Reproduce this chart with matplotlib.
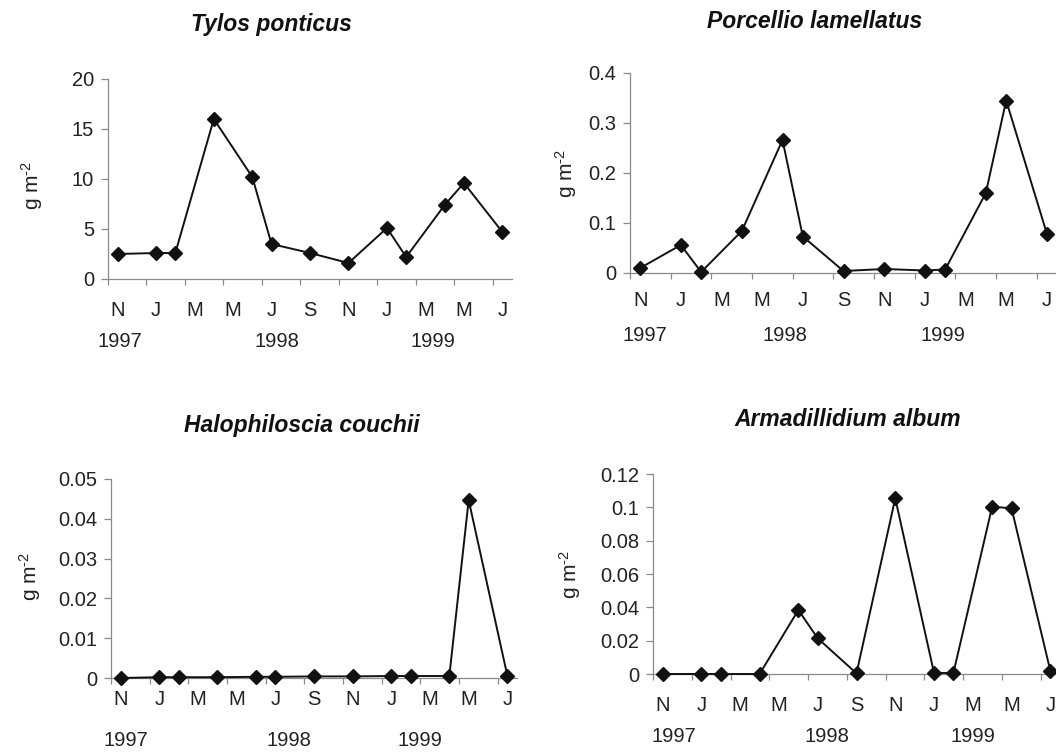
import matplotlib
matplotlib.use('Agg')
import matplotlib.pyplot as plt
from matplotlib.ticker import FixedLocator, FuncFormatter

plt.rcParams['font.family'] = ['Liberation Sans', 'DejaVu Sans']
plt.rcParams['mathtext.fontset'] = 'custom'
plt.rcParams['mathtext.rm'] = 'Liberation Sans'
plt.rcParams['mathtext.it'] = 'Liberation Sans:italic'

# sampling dates, months counted from Nov 1997
months = [0, 2, 3, 5, 7, 8, 10, 12, 14, 15, 17, 18, 20]
month_labels = ['N', 'J', 'M', 'M', 'J', 'S', 'N', 'J', 'M', 'M', 'J']
years = ['1997', '1998', '1999']

# biomass, g m-2
tylos = [2.5, 2.6, 2.6, 16.0, 10.2, 3.5, 2.6, 1.6, 5.1, 2.2, 7.4, 9.6, 4.7]
porcellio = [0.010, 0.056, 0.002, 0.084, 0.266, 0.073, 0.004, 0.008, 0.005, 0.007, 0.160, 0.345, 0.079]
halophiloscia = [0.0, 0.0002, 0.0002, 0.0002, 0.0003, 0.0003, 0.0004, 0.0004, 0.0005, 0.0005, 0.0005, 0.0447, 0.0006]
armadillidium = [0.0, 0.0, 0.0, 0.0, 0.0384, 0.0214, 0.0004, 0.1054, 0.0006, 0.0006, 0.1004, 0.0994, 0.002]

W, H = 1056, 753
fig = plt.figure(figsize=(W / 100, H / 100), dpi=100)

# one entry per panel: title, data, y ticks, axes box (px), title pos (px), label pad, ylabel x, year x
panels = [
    dict(title='Tylos ponticus', y=tylos, yticks=[0, 5, 10, 15, 20],
         box=(108, 79, 512, 279), tpos=(271, 25), pad=16, ylab=(-76, 0.47),
         yrs=[0.1, 8.3, 16.4]),
    dict(title='Porcellio lamellatus', y=porcellio, yticks=[0, 0.1, 0.2, 0.3, 0.4],
         box=(630, 73, 1057, 273), tpos=(815, 22), pad=13, ylab=(-64, 0.5),
         yrs=[0.25, 7.1, 14.9]),
    dict(title='Halophiloscia couchii', y=halophiloscia, yticks=[0, 0.01, 0.02, 0.03, 0.04, 0.05],
         box=(111, 479, 517, 678), tpos=(302, 425), pad=8.5, ylab=(-81, 0.51),
         yrs=[0.26, 8.7, 15.5]),
    dict(title='Armadillidium album', y=armadillidium, yticks=[0, 0.02, 0.04, 0.06, 0.08, 0.1, 0.12],
         box=(653, 474, 1060, 674), tpos=(848, 420), pad=15.5, ylab=(-83, 0.5),
         yrs=[0.6, 8.5, 16.0]),
]

axis_col = '#8a8a8a'
for p in panels:
    x0, y0, x1, y1 = p['box']
    ax = fig.add_axes([x0 / W, 1 - y1 / H, (x1 - x0) / W, (y1 - y0) / H])
    ax.plot(months, p['y'], color='#111111', lw=1.4, marker='D', ms=7.4,
            mec='#111111', mfc='#111111', clip_on=False, zorder=3)
    ax.set_xlim(-0.5, 20.5)
    ax.set_ylim(0, p['yticks'][-1])
    for s in ['top', 'right']:
        ax.spines[s].set_visible(False)
    for s in ['left', 'bottom']:
        ax.spines[s].set_color(axis_col)
        ax.spines[s].set_linewidth(0.9)

    # month letters centred on the dates, tick marks in between
    ax.xaxis.set_major_locator(FixedLocator(list(range(0, 21, 2))))
    ax.set_xticklabels(month_labels)
    ax.xaxis.set_minor_locator(FixedLocator([-0.5 + 2 * k for k in range(11)]))
    ax.tick_params(axis='x', which='major', length=0, pad=p['pad'], labelsize=14.5, labelcolor='#222222')
    ax.tick_params(axis='x', which='minor', length=4, color=axis_col, width=0.9)

    ax.yaxis.set_major_locator(FixedLocator(p['yticks']))
    ax.yaxis.set_major_formatter(FuncFormatter(lambda v, pos: '%g' % round(v, 4)))
    ax.tick_params(axis='y', length=5, width=0.9, color=axis_col, pad=5, labelsize=14.5, labelcolor='#222222')

    ax.set_ylabel(r'g m$^{\text{-}2}$', fontsize=15, color='#222222')
    ax.yaxis.label.set_va('center')
    ax.yaxis.set_label_coords(p['ylab'][0] / (x1 - x0), p['ylab'][1])

    for yr, xp in zip(years, p['yrs']):
        ax.annotate(yr, xy=(xp, 0), xycoords=('data', 'axes fraction'),
                    xytext=(0, -45), textcoords='offset points',
                    ha='center', va='center', fontsize=14.5, color='#222222',
                    annotation_clip=False)

    fig.text(p['tpos'][0] / W, 1 - p['tpos'][1] / H, p['title'], ha='center', va='center',
             fontsize=16.5, fontweight='bold', fontstyle='italic', color='#111111')

fig.savefig('out.png', dpi=100)
